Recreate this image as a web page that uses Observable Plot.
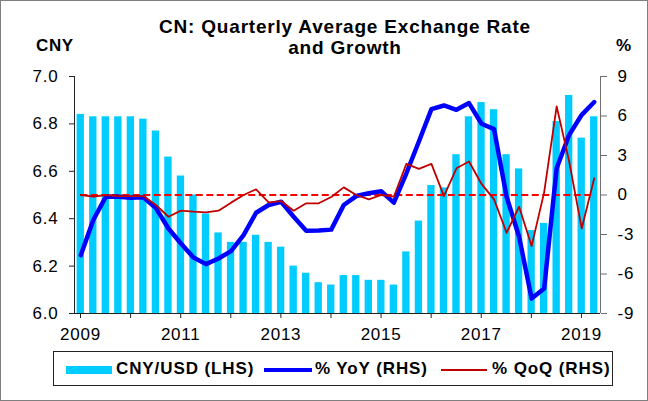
<!DOCTYPE html>
<html>
<head>
<meta charset="utf-8">
<script src="https://cdn.jsdelivr.net/npm/d3@7"></script>
<script src="https://cdn.jsdelivr.net/npm/@observablehq/plot@0.6"></script>
<style>
  html, body { margin: 0; padding: 0; background: #fff; }
  #wrap { position: relative; width: 648px; height: 401px; overflow: hidden;
          font-family: "Liberation Sans", Arial, sans-serif; color: #000; background: #fff; }
  #frame { position: absolute; left: 0; top: 0; width: 648px; height: 401px; box-sizing: border-box;
           border: 1px solid #7f7f7f; pointer-events: none; }
  .t { position: absolute; font-weight: bold; white-space: nowrap; }
  #title { left: 95px; width: 500px; top: 16px; text-align: center; font-size: 19px; line-height: 21px; letter-spacing: 0.8px; }
  #lhs { left: 36px; top: 36px; font-size: 17px; letter-spacing: 0.6px; }
  #rhs { left: 616px; top: 36px; font-size: 17px; }
  #legend { position: absolute; left: 53px; top: 351px; width: 560px; height: 35px; box-sizing: border-box;
            border: 1px solid #222; }
  .sw { position: absolute; }
  .lt { position: absolute; font-weight: bold; font-size: 17px; line-height: 20px; top: 7px; white-space: nowrap; letter-spacing: 0.9px; }
  #chart { position: absolute; left: 0; top: 0; }
  #chart svg text { letter-spacing: 0.75px; }
</style>
</head>
<body>
<div id="wrap">
  <div id="chart"></div>
  <div id="title" class="t">CN: Quarterly Average Exchange Rate<br>and Growth</div>
  <div id="lhs" class="t">CNY</div>
  <div id="rhs" class="t">%</div>
  <div id="legend">
    <div class="sw" style="left:12px;top:14px;width:46px;height:8px;background:#00CCFF"></div>
    <div class="lt" style="left:62px">CNY/USD (LHS)</div>
    <div class="sw" style="left:210px;top:16px;width:48px;height:4px;background:#0000FF"></div>
    <div class="lt" style="left:261px">% YoY (RHS)</div>
    <div class="sw" style="left:387px;top:17px;width:46px;height:2px;background:#C00000"></div>
    <div class="lt" style="left:438px">% QoQ (RHS)</div>
  </div>
  <div id="frame"></div>
</div>
<script>
// ---- data ----
const quarters = [
  "2009Q1","2009Q2","2009Q3","2009Q4","2010Q1","2010Q2","2010Q3","2010Q4",
  "2011Q1","2011Q2","2011Q3","2011Q4","2012Q1","2012Q2","2012Q3","2012Q4",
  "2013Q1","2013Q2","2013Q3","2013Q4","2014Q1","2014Q2","2014Q3","2014Q4",
  "2015Q1","2015Q2","2015Q3","2015Q4","2016Q1","2016Q2","2016Q3","2016Q4",
  "2017Q1","2017Q2","2017Q3","2017Q4","2018Q1","2018Q2","2018Q3","2018Q4",
  "2019Q1","2019Q2"
];
const cnyUsd = [
  6.84, 6.83, 6.83, 6.83, 6.83, 6.82, 6.77, 6.66,
  6.58, 6.50, 6.42, 6.34, 6.30, 6.30, 6.33, 6.30,
  6.28, 6.20, 6.17, 6.13, 6.12, 6.16, 6.16, 6.14,
  6.14, 6.12, 6.26, 6.39, 6.54, 6.53, 6.67, 6.83,
  6.89, 6.86, 6.67, 6.61, 6.35, 6.38, 6.81, 6.92,
  6.74, 6.83
];
const yoyPct = [
  -4.57, -1.90, -0.13, -0.13, -0.20, -0.18, -1.00, -2.54,
  -3.68, -4.75, -5.25, -4.82, -4.26, -3.05, -1.35, -0.76,
  -0.51, -1.65, -2.72, -2.69, -2.63, -0.76, -0.08, 0.13,
  0.28, -0.58, 1.65, 4.06, 6.52, 6.80, 6.47, 6.98,
  5.41, 5.00, -0.13, -3.17, -7.87, -7.10, 2.03, 4.57,
  6.09, 7.06
];
const qoqPct = [
  0.00, -0.13, 0.00, -0.08, -0.08, -0.08, -0.76, -1.65,
  -1.19, -1.27, -1.32, -1.19, -0.58, 0.00, 0.43, -0.56,
  -0.46, -1.19, -0.63, -0.63, -0.15, 0.58, 0.00, -0.33,
  0.00, -0.13, 2.36, 1.98, 2.36, -0.08, 2.03, 2.54,
  0.84, -0.33, -2.87, -0.89, -3.88, 0.20, 6.73, 2.54,
  -2.54, 1.27
];
const leftTicks = [6.0, 6.2, 6.4, 6.6, 6.8, 7.0];
const rightTicks = [-9, -6, -3, 0, 3, 6, 9];
const yearTicks = [2009, 2010, 2011, 2012, 2013, 2014, 2015, 2016, 2017, 2018, 2019];

// ---- mapping (right axis % onto left axis CNY scale) ----
const yMin = 6.0, yMax = 7.0, pMin = -9, pMax = 9;
const pctToY = p => yMin + (p - pMin) * (yMax - yMin) / (pMax - pMin);
const yToPct = y => pMin + (y - yMin) * (pMax - pMin) / (yMax - yMin);
const qToX = q => +q.slice(0, 4) + (+q.slice(5) - 0.5) / 4;

const data = quarters.map((q, i) => ({
  x: qToX(q), cny: cnyUsd[i], yoy: pctToY(yoyPct[i]), qoq: pctToY(qoqPct[i])
}));
const xFirst = data[0].x, xLast = data[data.length - 1].x;

const chart = Plot.plot({
  width: 648,
  height: 345,
  marginTop: 76,
  marginBottom: 32,
  marginLeft: 74,
  marginRight: 48,
  style: { fontFamily: "'Liberation Sans', Arial, sans-serif", fontSize: "17px", color: "#000", background: "transparent", overflow: "visible" },
  x: { domain: [2009, 2019.5], axis: null },
  y: { domain: [yMin, yMax], axis: null },
  marks: [
    Plot.rectY(data, {
      x1: d => d.x - 0.125, x2: d => d.x + 0.125, y1: yMin, y2: "cny",
      fill: "#00CCFF", insetLeft: 2.6, insetRight: 2.6
    }),
    Plot.ruleY([0], { y: d => pctToY(d), x1: xFirst, x2: xLast, stroke: "#FF0000", strokeWidth: 2, strokeDasharray: "7,3.5" }),
    Plot.line(data, { x: "x", y: "yoy", stroke: "#0000FF", strokeWidth: 4.5, strokeLinejoin: "round" }),
    Plot.line(data, { x: "x", y: "qoq", stroke: "#C00000", strokeWidth: 1.8, strokeLinejoin: "round" }),
    Plot.axisY({ anchor: "left", ticks: leftTicks, tickFormat: d => d.toFixed(1), tickSize: 5, tickPadding: 11, fontSize: 17, label: null, stroke: "#222" }),
    Plot.axisY({ anchor: "right", ticks: rightTicks.map(pctToY), tickFormat: d => String(Math.round(yToPct(d))), tickSize: 6, tickPadding: 11, fontSize: 17, label: null, stroke: "#6f6f6f" }),
    Plot.axisX({ ticks: yearTicks, tickFormat: d => (d % 2 === 1 ? String(d) : ""), tickSize: 5, tickPadding: 9, dx: 6, fontSize: 17, label: null, stroke: "#222" }),
    Plot.ruleX([2009], { stroke: "#222" }),
    Plot.ruleX([2019.5], { stroke: "#6f6f6f" }),
    Plot.ruleY([yMin], { stroke: "#222" })
  ]
});
document.getElementById("chart").appendChild(chart);
</script>
</body>
</html>
